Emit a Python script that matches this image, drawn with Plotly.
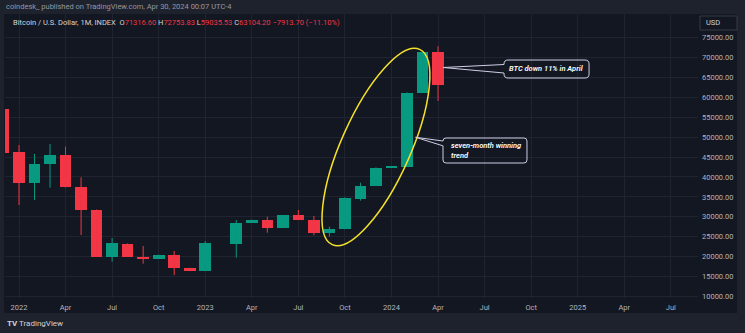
import plotly.graph_objects as go

# ---------------- data ----------------
months = ["2021-12", "2022-01", "2022-02", "2022-03", "2022-04", "2022-05", "2022-06",
          "2022-07", "2022-08", "2022-09", "2022-10", "2022-11", "2022-12", "2023-01",
          "2023-03", "2023-04", "2023-05", "2023-06", "2023-07", "2023-08", "2023-09",
          "2023-10", "2023-11", "2023-12", "2024-01", "2024-02", "2024-03", "2024-04"]
opens = [57030, 46260, 38560, 43250, 45500, 37500, 31800, 20020, 23300, 19940, 19520,
         20440, 17200, 16440, 23280, 28540, 29220, 27290, 30470, 29220, 26030, 26960,
         34480, 37810, 42320, 42570, 61120, 71316.60]
highs = [59000, 48010, 45760, 48260, 47580, 39920, 31850, 24700, 23350, 22700, 20500,
         21450, 17250, 23950, 29220, 29300, 30040, 30500, 31720, 30220, 27540, 34900,
         38560, 42400, 42650, 61200, 71400, 72753.83]
lows = [42000, 32970, 34230, 37310, 37400, 25460, 19950, 18770, 20000, 18270, 19450,
        15430, 16400, 16400, 19770, 28500, 26030, 27250, 29200, 25380, 25030, 26900,
        34050, 37700, 42250, 42500, 61000, 59035.53]
closes = [46080, 38560, 43250, 45500, 37500, 31800, 20020, 23450, 20020, 19520, 20440,
          17260, 16440, 23380, 28540, 29220, 27290, 30470, 29220, 26030, 26890, 34800,
          37740, 42320, 42570, 61120, 71320, 63104.20]

x_tick_months = list(range(0, 43, 3))
x_tick_labels = ["2022", "Apr", "Jul", "Oct", "2023", "Apr", "Jul", "Oct",
                 "2024", "Apr", "Jul", "Oct", "2025", "Apr", "Jul"]
y_ticks = list(range(10000, 75001, 5000))

UP, DOWN = "#089981", "#f23645"
BG_OUT, BG_IN = "#1e222d", "#131722"
TXT = "#b2b5be"

# month index: Jan 2022 = 0
def midx(s):
    y, m = s.split("-")
    return (int(y) - 2022) * 12 + int(m) - 1

xs = [midx(s) for s in months]
up = [c >= o for o, c in zip(opens, closes)]

fig = go.Figure()

# wicks
for flag, col in ((True, UP), (False, DOWN)):
    wx, wy = [], []
    for x, h, l, u in zip(xs, highs, lows, up):
        if u == flag:
            wx += [x, x, None]
            wy += [l, h, None]
    fig.add_trace(go.Scatter(x=wx, y=wy, mode="lines", line=dict(color=col, width=1),
                             hoverinfo="skip", showlegend=False))

# bodies
fig.add_trace(go.Bar(
    x=xs,
    y=[max(abs(c - o), 250) for o, c in zip(opens, closes)],
    base=[min(o, c) for o, c in zip(opens, closes)],
    width=0.75,
    marker=dict(color=[UP if u else DOWN for u in up], line=dict(width=0)),
    showlegend=False,
))

# ---------------- layout geometry ----------------
W, H = 745, 333
PL, PR, PT, PB = 5, 698, 14, 298
XR = [-0.902, 43.75]
YR = [9667, 80839]

def px(x):
    return (x - PL) / (PR - PL)

def py(y):
    return (PB - y) / (PB - PT)

shapes = []
# chart panel
shapes.append(dict(type="rect", xref="paper", yref="paper", x0=px(4), x1=px(737),
                   y0=py(313), y1=py(14), fillcolor=BG_IN, line=dict(width=0), layer="below"))
# USD box
shapes.append(dict(type="rect", xref="paper", yref="paper", x0=px(700), x1=px(737),
                   y0=py(30), y1=py(16), fillcolor=BG_IN, line=dict(color="#363a45", width=1)))

# yellow ellipse (bezier, data coords)
cx, cy = 23.0, 47510
u = (2.815, 24475)
v = (-2.035, 3540)
k = 0.5523
def P(a, b):
    return f"{a:.4f},{b:.1f}"
pts = [(cx + u[0], cy + u[1]), (cx + v[0], cy + v[1]), (cx - u[0], cy - u[1]), (cx - v[0], cy - v[1])]
dirs = [(v, u), ((-u[0], -u[1]), v), ((-v[0], -v[1]), (-u[0], -u[1])), (u, (-v[0], -v[1]))]
path = f"M {P(*pts[0])}"
for i in range(4):
    p0 = pts[i]
    p1 = pts[(i + 1) % 4]
    t0 = dirs[i][0]
    t1 = dirs[i][1]
    c1 = (p0[0] + k * t0[0], p0[1] + k * t0[1])
    c2 = (p1[0] + k * t1[0], p1[1] + k * t1[1])
    path += f" C {P(*c1)} {P(*c2)} {P(*p1)}"
path += " Z"
shapes.append(dict(type="path", xref="x", yref="y", path=path,
                   line=dict(color="#f5e12a", width=1.5), fillcolor="rgba(0,0,0,0)"))

def callout(x0, x1, yb, yt, rx, ry, tip, a_hi, a_lo):
    return (f"M {P(x0, yt - ry)} Q {P(x0, yt)} {P(x0 + rx, yt)} L {P(x1 - rx, yt)} "
            f"Q {P(x1, yt)} {P(x1, yt - ry)} L {P(x1, yb + ry)} Q {P(x1, yb)} {P(x1 - rx, yb)} "
            f"L {P(x0 + rx, yb)} Q {P(x0, yb)} {P(x0, yb + ry)} L {P(x0, a_lo)} "
            f"L {P(*tip)} L {P(x0, a_hi)} Z")

CL = "#cfcde6"
shapes.append(dict(type="path", xref="x", yref="y",
                   path=callout(31.25, 36.73, 64800, 69310, 0.26, 1000, (27.32, 67430), 68180, 66050),
                   line=dict(color=CL, width=1), fillcolor="rgba(0,0,0,0)"))
shapes.append(dict(type="path", xref="x", yref="y",
                   path=callout(27.32, 32.73, 43500, 49765, 0.2, 750, (25.55, 49940), 49015, 47800),
                   line=dict(color=CL, width=1), fillcolor="rgba(0,0,0,0)"))

FONT = "Roboto, Liberation Sans, sans-serif"
ann = []
ann.append(dict(xref="x", yref="y", x=33.99, y=67060, text="<i>BTC down 11% in April</i>",
                showarrow=False, xanchor="center", yanchor="middle",
                font=dict(family=FONT, size=7.5, color="#ffffff", weight=600)))
ann.append(dict(xref="x", yref="y", x=27.7, y=46630, text="<i>seven-month winning<br>trend</i>",
                showarrow=False, xanchor="left", yanchor="middle", align="left",
                font=dict(family=FONT, size=7.5, color="#ffffff", weight=600)))
ann.append(dict(xref="paper", yref="paper", x=px(4), y=py(7),
                text="coindesk_ published on TradingView.com, Apr 30, 2024 00:07 UTC-4",
                showarrow=False, xanchor="left", yanchor="middle",
                font=dict(family=FONT, size=7.5, color="#9598a1")))
R = DOWN
hdr = ("Bitcoin / U.S. Dollar, 1M, INDEX  "
       f"O<span style='color:{R}'>71316.60</span> H<span style='color:{R}'>72753.83</span> "
       f"L<span style='color:{R}'>59035.53</span> C<span style='color:{R}'>63104.20</span> "
       f"<span style='color:{R}'>−7913.70 (−11.10%)</span>")
ann.append(dict(xref="paper", yref="paper", x=px(11), y=py(23), text=hdr,
                showarrow=False, xanchor="left", yanchor="middle",
                font=dict(family=FONT, size=7.5, color="#d1d4dc")))
ann.append(dict(xref="paper", yref="paper", x=px(704), y=py(23), text="USD",
                showarrow=False, xanchor="left", yanchor="middle",
                font=dict(family=FONT, size=7.5, color="#d1d4dc")))
ann.append(dict(xref="paper", yref="paper", x=px(5), y=py(323), text="<b>TV</b> TradingView",
                showarrow=False, xanchor="left", yanchor="middle",
                font=dict(family=FONT, size=8, color="#d1d4dc")))

fig.update_layout(
    width=W, height=H,
    margin=dict(l=PL, r=W - PR, t=PT, b=H - PB),
    paper_bgcolor=BG_OUT, plot_bgcolor=BG_IN,
    bargap=0, showlegend=False,
    shapes=shapes, annotations=ann,
    xaxis=dict(range=XR, tickvals=x_tick_months, ticktext=x_tick_labels,
               showgrid=True, gridcolor="#1f2430", gridwidth=1, zeroline=False,
               showline=False, ticks="", ticklabelstandoff=3,
               tickfont=dict(family=FONT, size=7.5, color=TXT)),
    yaxis=dict(range=YR, side="right", tickvals=y_ticks,
               ticktext=[f"{t:.2f}" for t in y_ticks],
               showgrid=True, gridcolor="#1f2430", gridwidth=1, zeroline=False,
               showline=False, ticks="", ticklabelstandoff=3,
               tickfont=dict(family=FONT, size=7.5, color=TXT)),
)

fig.write_html("out.html")
